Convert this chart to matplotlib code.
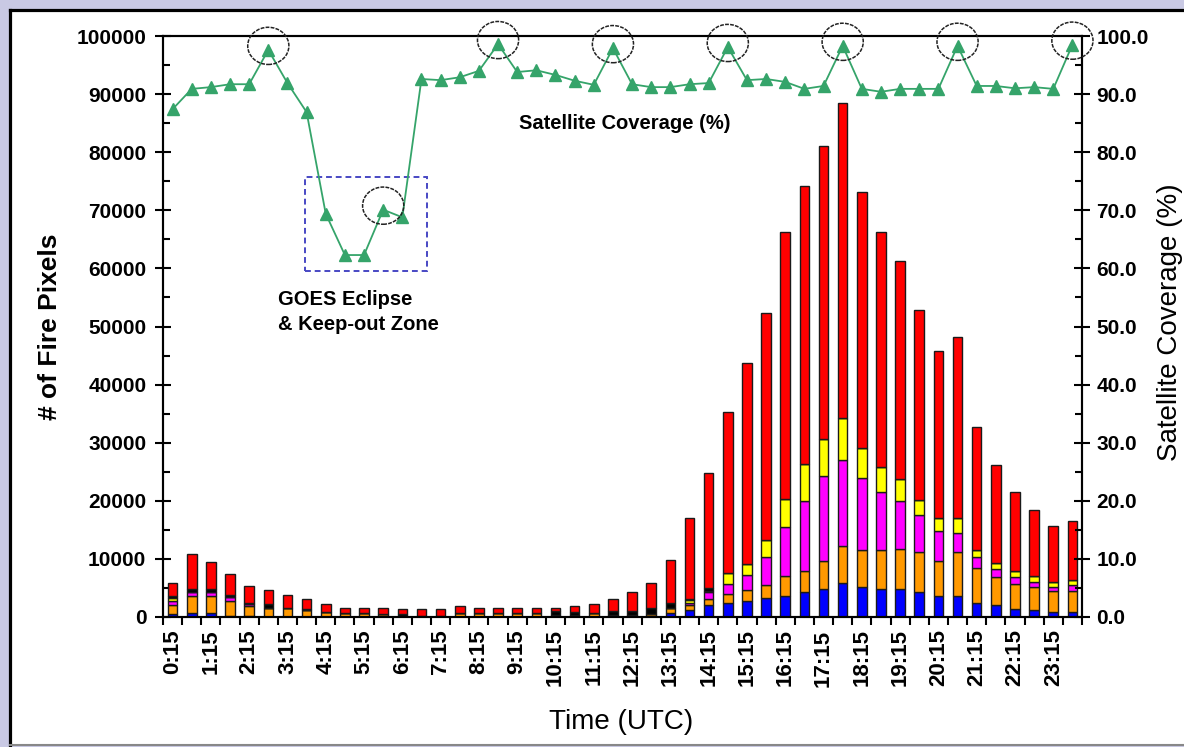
import matplotlib
matplotlib.use("Agg")
import matplotlib.pyplot as plt
from matplotlib.patches import Ellipse, Rectangle
from matplotlib.lines import Line2D
import numpy as np

plt.rcParams['font.family'] = ['Liberation Sans', 'DejaVu Sans']

# ---------------- data ----------------
times = ["0:15", "0:45", "1:15", "1:45", "2:15", "2:45", "3:15", "3:45",
         "4:15", "4:45", "5:15", "5:45", "6:15", "6:45", "7:15", "7:45",
         "8:15", "8:45", "9:15", "9:45", "10:15", "10:45", "11:15", "11:45",
         "12:15", "12:45", "13:15", "13:45", "14:15", "14:45", "15:15", "15:45",
         "16:15", "16:45", "17:15", "17:45", "18:15", "18:45", "19:15", "19:45",
         "20:15", "20:45", "21:15", "21:45", "22:15", "22:45", "23:15", "23:45"]

blue = [600, 630, 630, 200, 150, 0, 0, 0, 0, 0, 0, 0, 0, 0, 0, 0,
        0, 0, 0, 0, 100, 100, 0, 100, 100, 0, 630, 1200, 2000, 2400, 2750, 3330,
        3670, 4250, 4820, 5850, 5160, 4820, 4820, 4250, 3670, 3670, 2410, 2120, 1430, 1200, 920, 920]
orange = [1400, 2990, 2990, 2470, 1700, 1500, 1500, 1200, 920, 630, 630, 500, 200, 200, 200, 630,
          630, 630, 630, 630, 300, 300, 630, 300, 300, 600, 860, 860, 1100, 1550, 1840, 2120,
          3330, 3610, 4880, 6310, 6310, 6650, 6940, 6880, 5970, 7460, 6020, 4760, 4250, 3900, 3560, 3560]
magenta = [800, 750, 750, 690, 350, 0, 0, 0, 0, 0, 0, 0, 0, 0, 0, 0,
           0, 0, 0, 0, 0, 0, 0, 0, 0, 0, 0, 400, 1200, 1780, 2580, 4880,
           8490, 12100, 14570, 14800, 12500, 10040, 8200, 6370, 5160, 3390, 1890, 1320, 1200, 980, 690, 1030]
yellow = [500, 0, 0, 0, 0, 0, 0, 0, 0, 0, 0, 0, 0, 0, 0, 0,
          0, 0, 0, 0, 0, 0, 0, 0, 0, 0, 0, 460, 150, 1780, 2000, 2980,
          4880, 6430, 6430, 7340, 5160, 4300, 3730, 2580, 2240, 2520, 1200, 1150, 980, 920, 920, 920]
black = [300, 400, 400, 460, 150, 750, 100, 200, 0, 0, 0, 0, 300, 0, 0, 0,
         0, 0, 0, 0, 630, 450, 0, 630, 630, 1000, 860, 200, 460, 0, 0, 0,
         0, 0, 0, 0, 0, 0, 0, 0, 0, 0, 0, 0, 0, 0, 0, 0]
red = [2200, 6030, 4730, 3580, 2950, 2350, 2200, 1700, 1280, 970, 970, 1100, 800, 1100, 1100, 1270,
       970, 970, 970, 970, 570, 1050, 1570, 2070, 3270, 4250, 7450, 13880, 19890, 27690, 34530, 38990,
       45830, 47810, 50300, 54100, 43970, 40390, 37610, 32720, 28760, 31160, 21180, 16850, 13640, 11400, 9610, 10070]

coverage = [87.4, 90.9, 91.2, 91.7, 91.7, 97.6, 91.9, 86.9, 69.4, 62.3, 62.3, 70.1,
            68.8, 92.6, 92.4, 92.9, 94.0, 98.6, 93.8, 94.1, 93.3, 92.3, 91.6, 97.9,
            91.7, 91.2, 91.2, 91.7, 91.9, 98.1, 92.4, 92.6, 92.1, 90.9, 91.4, 98.3,
            90.9, 90.4, 90.9, 90.9, 90.9, 98.3, 91.4, 91.4, 91.0, 91.2, 90.9, 98.5]

circled = [5, 11, 17, 23, 29, 35, 41, 47]
eclipse_box = (6.9, 59500, 6.4, 16200)   # x, y, width, height (annotation)

# ---------------- figure ----------------
W, H = 1184, 747
fig = plt.figure(figsize=(W / 100, H / 100), dpi=100)
fig.patch.set_facecolor('#c9c9e4')
fig.add_artist(Rectangle((10 / W, 2 / H), 1, (745 - 10) / H, transform=fig.transFigure,
                         facecolor='white', edgecolor='none', zorder=0))
fig.add_artist(Line2D([9.5 / W, 9.5 / W], [2 / H, 1 - 9.5 / H], transform=fig.transFigure,
                      color='black', lw=2.3))
fig.add_artist(Line2D([9.5 / W, 1], [1 - 9.5 / H, 1 - 9.5 / H], transform=fig.transFigure,
                      color='black', lw=2.3))
fig.add_artist(Line2D([9.5 / W, 1], [2 / H, 2 / H], transform=fig.transFigure,
                      color='#888888', lw=1.5))

ax = fig.add_axes([163 / W, 1 - 617 / H, (1082 - 163) / W, (617 - 36) / H])
ax.set_facecolor('white')

x = np.arange(len(times))
series = [(blue, '#0000ff'), (orange, '#ff9900'), (magenta, '#ff00ff'),
          (yellow, '#ffff00'), (black, '#000000'), (red, '#ff0000')]
bottom = np.zeros(len(times))
for vals, col in series:
    v = np.array(vals, dtype=float)
    ax.bar(x, v, width=0.5, bottom=bottom, color=col, edgecolor='#1a1a1a', linewidth=1.0, zorder=2)
    bottom += v

ax.set_xlim(-0.5, len(times) - 0.5)
ax.set_ylim(0, 100000)

ax.set_xticks(x[::2], labels=times[::2], rotation=90, fontweight='bold', fontsize=16)
ax.set_xticks(np.arange(-0.5, len(times), 1), minor=True)
ax.tick_params(axis='x', which='major', length=0, pad=9)
ax.tick_params(axis='x', which='minor', length=6, width=1.5, direction='out')

yt = np.arange(0, 100001, 10000)
ax.set_yticks(yt, labels=[f"{v:d}" for v in yt], fontweight='bold', fontsize=15)
ax.set_yticks(np.arange(5000, 100000, 10000), minor=True)
ax.tick_params(axis='y', which='major', direction='inout', length=11, width=1.5, pad=6.5)
ax.tick_params(axis='y', which='minor', direction='in', length=5, width=1.5)

for s in ax.spines.values():
    s.set_linewidth(1.5)
    s.set_color('black')

ax2 = ax.twinx()
ax2.set_ylim(0, 100)
yt2 = np.arange(0, 101, 10)
ax2.set_yticks(yt2, labels=[f"{v:.1f}" for v in yt2], fontweight='bold', fontsize=15)
ax2.set_yticks(np.arange(5, 100, 10), minor=True)
ax2.tick_params(axis='y', which='major', direction='inout', length=11, width=1.5, pad=5)
ax2.tick_params(axis='y', which='minor', direction='in', length=5, width=1.5)
for s in ax2.spines.values():
    s.set_linewidth(1.5)
    s.set_color('black')

green = '#35a46a'
ax2.plot(x, coverage, color=green, lw=1.3, marker='^', ms=8.5, mec=green, mfc=green, zorder=5,
         clip_on=False)

for i in circled:
    ax2.add_patch(Ellipse((x[i], coverage[i] + 0.7), width=2.15, height=6.4, fill=False,
                          ec='#222222', lw=1.1, ls=(0, (2.5, 0.8)), clip_on=False, zorder=6))

ax.add_patch(Rectangle(eclipse_box[:2], eclipse_box[2], eclipse_box[3], fill=False,
                       ec='#4848c4', lw=1.4, ls=(0, (3, 2)), zorder=6))

ax2.text(23.6, 85.0, "Satellite Coverage (%)", fontsize=14.5, fontweight='bold',
         ha='center', va='center')
ax.text(5.5, 52500, "GOES Eclipse\n& Keep-out Zone", fontsize=14.5, fontweight='bold',
        ha='left', va='center', linespacing=1.35)

fig.text(50 / W, 1 - 327 / H, "# of Fire Pixels", rotation=90, fontsize=19, fontweight='bold',
         ha='center', va='center')
fig.text(1170 / W, 1 - 322 / H, "Satellite Coverage (%)", rotation=90, fontsize=20,
         ha='center', va='center')
fig.text(621 / W, 1 - 722 / H, "Time (UTC)", fontsize=20, ha='center', va='center')

fig.savefig("out.png", dpi=100, facecolor=fig.get_facecolor())
